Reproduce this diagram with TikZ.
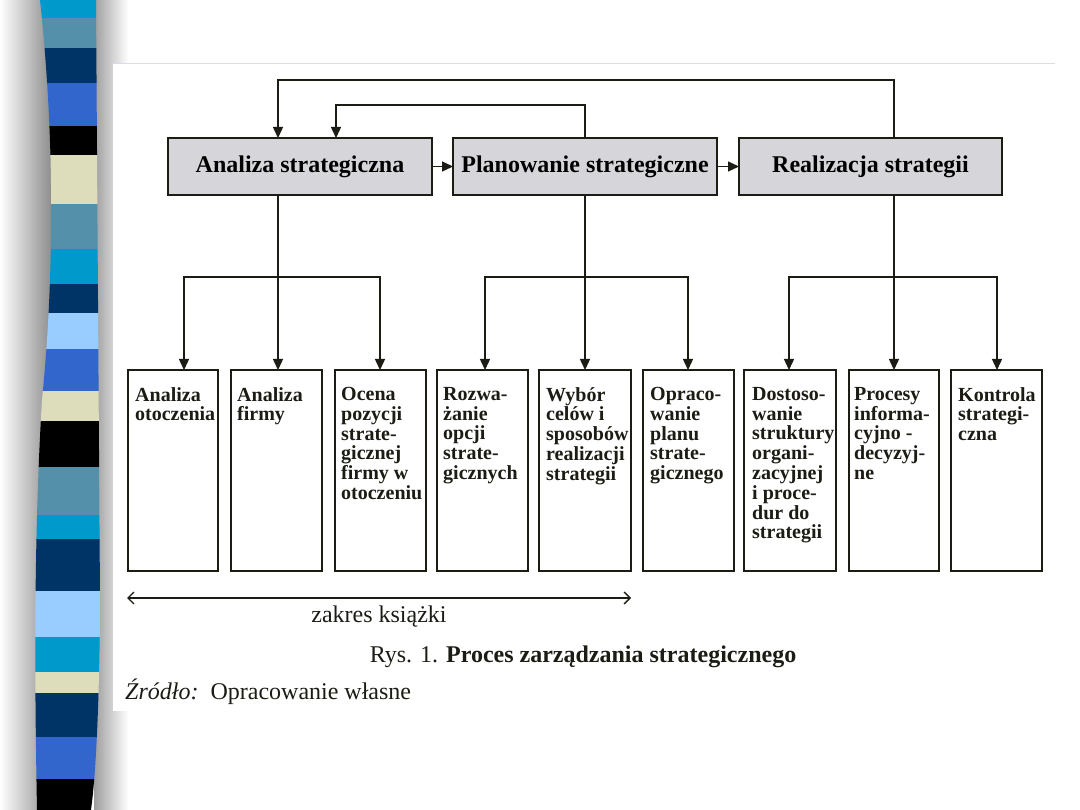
\documentclass[tikz,border=0pt]{standalone}
\usepackage{fontspec}
\setmainfont{Liberation Serif}
\usetikzlibrary{arrows.meta}
\definecolor{ink}{HTML}{1C1C14}
\definecolor{dotgray}{HTML}{D6D6DA}
\definecolor{scyan}{HTML}{0099CC}
\definecolor{ssteel}{HTML}{5590AA}
\definecolor{snavy}{HTML}{003366}
\definecolor{sblue}{HTML}{3366CC}
\definecolor{sbeige}{HTML}{DDDDBB}
\definecolor{slight}{HTML}{99CCFF}
\definecolor{sblack}{HTML}{000000}
\definecolor{shadowgray}{HTML}{8C8C8C}
\definecolor{faint}{HTML}{DCDCEC}
\tikzset{
  topbox/.style={draw=ink, line width=1.6, fill=dotgray, minimum width=264, minimum height=57,
    inner sep=0, outer sep=0, anchor=north west, font=\bfseries\fontsize{24}{26}\selectfont},
  subbox/.style={draw=ink, line width=1.6, minimum width=91, minimum height=201,
    inner sep=0, outer sep=0, anchor=north west},
  subtxt/.style={anchor=north west, align=left, inner sep=0, text=ink,
    font=\bfseries\fontsize{20}{19.8}\selectfont},
  conn/.style={draw=ink, line width=1.4},
  arr/.style={conn, -{Triangle[length=11,width=10]}},
  spanarr/.style={draw=ink, line width=1.3, {Straight Barb[length=6,width=12]}-{Straight Barb[length=6,width=12]}},
  captxt/.style={inner sep=0, text=ink, font=\fontsize{24}{26}\selectfont}
}
\begin{document}
\begin{tikzpicture}[x=1pt,y=-1pt]
\useasboundingbox (0,0) rectangle (1080,810);
\fill[white] (0,0) rectangle (1080,810);
% shadows around the stripe bar
\shade[left color=white, right color=shadowgray] (0,0) rectangle (52,810);
\shade[left color=shadowgray!85, right color=white] (94,0) rectangle (128,810);
% stripe bar
\begin{scope}
\clip (40,0) .. controls (53,120) and (56,260) .. (42,400) .. controls (33,550) and (35,700) .. (37,810)
  -- (91,810) .. controls (98,760) and (100,650) .. (100,600) -- (96,0) -- cycle;
\fill[scyan]   (30,0)   rectangle (110,18);
\fill[ssteel]  (30,18)  rectangle (110,48);
\fill[snavy]   (30,48)  rectangle (110,83);
\fill[sblue]   (30,83)  rectangle (110,126);
\fill[sblack]  (30,126) rectangle (110,155);
\fill[sbeige]  (30,155) rectangle (110,204);
\fill[ssteel]  (30,204) rectangle (110,249);
\fill[scyan]   (30,249) rectangle (110,284);
\fill[snavy]   (30,284) rectangle (110,313);
\fill[slight]  (30,313) rectangle (110,349);
\fill[sblue]   (30,349) rectangle (110,391);
\fill[sbeige]  (30,391) rectangle (110,421);
\fill[sblack]  (30,421) rectangle (110,467);
\fill[ssteel]  (30,467) rectangle (110,515);
\fill[scyan]   (30,515) rectangle (110,539);
\fill[snavy]   (30,539) rectangle (110,591);
\fill[slight]  (30,591) rectangle (110,637);
\fill[scyan]   (30,637) rectangle (110,672);
\fill[sbeige]  (30,672) rectangle (110,693);
\fill[snavy]   (30,693) rectangle (110,737);
\fill[sblue]   (30,737) rectangle (110,779);
\fill[sblack]  (30,779) rectangle (110,810);
\end{scope}
% figure area
\fill[white] (113,64) rectangle (1055,711);
\draw[faint, line width=1] (113,64) -- (1055,64);

% top level
\node[topbox] (A) at (168,138) {Analiza strategiczna};
\node[topbox] (P) at (453,138) {Planowanie strategiczne};
\node[topbox, minimum width=263] (R) at (739,138) {Realizacja strategii};
\draw[arr] (A.east) -- (P.west);
\draw[arr] (P.east) -- (R.west);
\draw[arr] ([xshift=155]R.north west) -- ++(0,-58) -| ([xshift=110]A.north west);
\draw[arr] ([xshift=132]P.north west) -- ++(0,-33) -| ([xshift=168]A.north west);

% sub boxes
\node[subbox, minimum width=90] (s1) at (128,370) {};
\node[subbox] (s2) at (231,370) {};
\node[subbox] (s3) at (335,370) {};
\node[subbox] (s4) at (437,370) {};
\node[subbox, minimum width=92] (s5) at (539,370) {};
\node[subbox] (s6) at (643,370) {};
\node[subbox, minimum width=92] (s7) at (744,370) {};
\node[subbox, minimum width=90] (s8) at (849,370) {};
\node[subbox] (s9) at (951,370) {};

\node[subtxt] (t1) at ([xshift=7,yshift=-17]s1.north west) {Analiza\\otoczenia};
\node[subtxt] (t2) at ([xshift=6,yshift=-17]s2.north west) {Analiza\\firmy};
\node[subtxt] (t3) at ([xshift=6,yshift=-17]s3.north west) {Ocena\\pozycji\\strate-\\gicznej\\firmy w\\otoczeniu};
\node[subtxt] (t4) at ([xshift=6,yshift=-17]s4.north west) {Rozwa-\\żanie\\opcji\\strate-\\gicznych};
\node[subtxt] (t5) at ([xshift=7,yshift=-17]s5.north west) {Wybór\\celów i\\sposobów\\realizacji\\strategii};
\node[subtxt] (t6) at ([xshift=7,yshift=-17]s6.north west) {Opraco-\\wanie\\planu\\strate-\\gicznego};
\node[subtxt] (t7) at ([xshift=8,yshift=-17]s7.north west) {Dostoso-\\wanie\\struktury\\organi-\\zacyjnej\\i proce-\\dur do\\strategii};
\node[subtxt] (t8) at ([xshift=5,yshift=-17]s8.north west) {Procesy\\informa-\\cyjno -\\decyzyj-\\ne};
\node[subtxt] (t9) at ([xshift=7,yshift=-17]s9.north west) {Kontrola\\strategi-\\czna};

% trees
\coordinate (j1) at ([xshift=110,yshift=-82]A.south west);
\coordinate (j2) at ([xshift=132,yshift=-82]P.south west);
\coordinate (j3) at ([xshift=155,yshift=-82]R.south west);
\draw[conn] ([xshift=110]A.south west) -- (j1);
\draw[conn] ([xshift=132]P.south west) -- (j2);
\draw[conn] ([xshift=155]R.south west) -- (j3);
\draw[arr] (j1) -| ([xshift=56]s1.north west);
\draw[arr] (j1) -- (j1 |- s2.north);
\draw[arr] (j1) -| ([xshift=45]s3.north west);
\draw[arr] (j2) -| ([xshift=48]s4.north west);
\draw[arr] (j2) -- (j2 |- s5.north);
\draw[arr] (j2) -| ([xshift=45]s6.north west);
\draw[arr] (j3) -| ([xshift=45]s7.north west);
\draw[arr] (j3) -- (j3 |- s8.north);
\draw[arr] (j3) -| ([xshift=46]s9.north west);

% scope of the book
\coordinate (zl) at (127,598);
\coordinate (zr) at (631,598);
\draw[spanarr] (zl) -- (zr);
\node[captxt] (zk) at (379,617) {zakres książki};
\node[captxt] (rys) at (583,657) {Rys. 1. \textbf{Proces zarządzania strategicznego}};
\node[captxt, anchor=west] (src) at (125,692) {\textit{Źródło:}\ \ Opracowanie własne};
\end{tikzpicture}
\end{document}
